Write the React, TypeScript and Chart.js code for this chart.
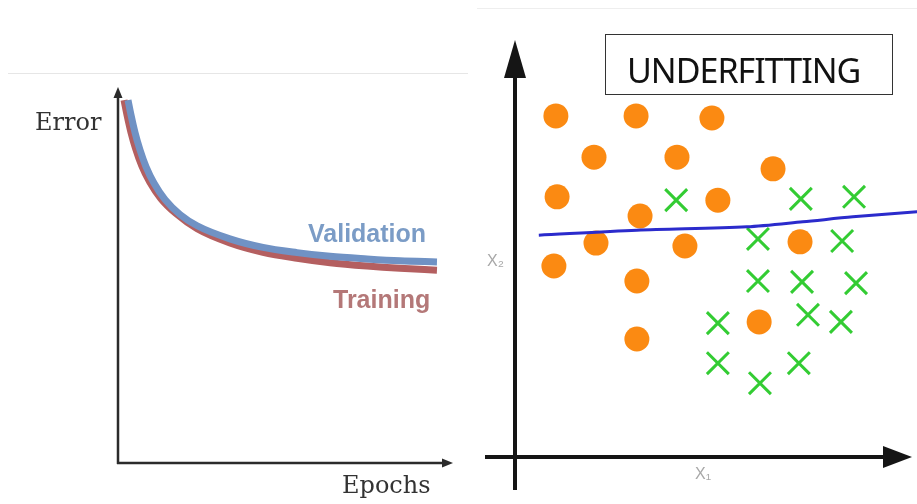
import React, { useEffect, useRef } from "react";
import { Chart, registerables } from "chart.js";

Chart.register(...registerables);

// ---- Left chart: error vs epochs ----
const validationEpochs = [3.0, 3.9, 5.1, 6.6, 8.4, 10.8, 14.1, 18.6, 23.7, 33.5, 43.4, 53.6, 63.5, 74.6, 84.4, 95.5];
const validationError = [97.3, 93.3, 88.6, 83.9, 79.4, 75.0, 70.6, 66.6, 63.6, 60.1, 57.8, 56.4, 55.4, 54.7, 54.2, 53.9];
const trainingEpochs = [1.8, 2.7, 3.9, 5.3, 7.1, 9.5, 12.8, 17.3, 23.7, 33.5, 43.4, 53.6, 63.5, 74.6, 84.4, 95.5];
const trainingError = [97.3, 93.3, 88.6, 84.2, 79.7, 75.3, 70.9, 66.9, 62.8, 59.0, 56.5, 54.9, 53.7, 52.8, 52.2, 51.7];

// ---- Right chart: underfitting scatter ----
const orangeX = [10.3, 30.5, 49.6, 19.9, 40.8, 65.0, 10.6, 51.1, 31.5, 20.4, 42.8, 71.8, 9.8, 30.7, 61.5, 30.7];
const orangeY = [81.8, 81.8, 81.3, 71.9, 71.9, 69.1, 62.4, 61.6, 57.8, 51.3, 50.6, 51.6, 45.8, 42.2, 32.4, 28.3];
const greenX = [40.6, 72.0, 85.4, 61.2, 82.4, 61.2, 72.3, 85.9, 51.1, 73.8, 82.1, 51.1, 61.7, 71.5];
const greenY = [61.6, 61.9, 62.4, 52.3, 51.8, 42.2, 42.0, 41.7, 32.1, 34.1, 32.4, 22.5, 17.7, 22.5];
const boundaryX = [6.0, 30.7, 58.4, 72.5, 85.1, 101.3];
const boundaryY = [53.2, 54.4, 55.2, 56.4, 57.6, 58.8];

const zip = (xs: number[], ys: number[]) => xs.map((x, i) => ({ x, y: ys[i] }));

const arrowAxes = {
  id: "arrowAxes",
  beforeDatasetsDraw(chart: any, _args: any, o: any) {
    const { ctx, chartArea: a } = chart;
    ctx.save();
    ctx.strokeStyle = o.color;
    ctx.fillStyle = o.color;
    ctx.lineWidth = o.width;
    // y axis
    const yTip = a.top + o.yTipOffset;
    ctx.beginPath();
    ctx.moveTo(a.left, a.bottom + o.yBelow);
    ctx.lineTo(a.left, yTip + o.head * 0.8);
    ctx.stroke();
    ctx.beginPath();
    ctx.moveTo(a.left, yTip);
    ctx.lineTo(a.left - o.half, yTip + o.head);
    ctx.lineTo(a.left + o.half, yTip + o.head);
    ctx.closePath();
    ctx.fill();
    // x axis
    const xTip = a.right + o.xTipOffset;
    ctx.beginPath();
    ctx.moveTo(a.left - o.xBefore, a.bottom);
    ctx.lineTo(xTip - o.xHead * 0.8, a.bottom);
    ctx.stroke();
    ctx.beginPath();
    ctx.moveTo(xTip, a.bottom);
    ctx.lineTo(xTip - o.xHead, a.bottom - o.half);
    ctx.lineTo(xTip - o.xHead, a.bottom + o.half);
    ctx.closePath();
    ctx.fill();
    ctx.restore();
  },
};

const hiddenScales = {
  x: { type: "linear" as const, min: 0, max: 100, display: false },
  y: { type: "linear" as const, min: 0, max: 100, display: false },
};

export default function App() {
  const leftRef = useRef<HTMLCanvasElement>(null);
  const rightRef = useRef<HTMLCanvasElement>(null);

  useEffect(() => {
    const left = new Chart(leftRef.current!, {
      type: "line",
      data: {
        datasets: [
          {
            label: "Validation",
            data: zip(validationEpochs, validationError),
            borderColor: "#7092c4",
            borderWidth: 7,
            pointRadius: 0,
            cubicInterpolationMode: "monotone",
            fill: false,
          },
          {
            label: "Training",
            data: zip(trainingEpochs, trainingError),
            borderColor: "#b45f60",
            borderWidth: 7,
            pointRadius: 0,
            cubicInterpolationMode: "monotone",
            fill: false,
          },
        ],
      },
      options: {
        responsive: false,
        animation: false,
        events: [],
        layout: { autoPadding: false, padding: { left: 118, right: 465, top: 90, bottom: 41 } },
        scales: hiddenScales,
        plugins: {
          legend: { display: false },
          tooltip: { enabled: false },
          arrowAxes: {
            color: "#2b2b2b",
            width: 2.5,
            yTipOffset: -3,
            yBelow: 1,
            head: 11,
            half: 4.5,
            xTipOffset: 1,
            xBefore: 1,
            xHead: 11,
          },
        } as any,
      } as any,
      plugins: [arrowAxes],
    });

    const right = new Chart(rightRef.current!, {
      type: "scatter",
      data: {
        datasets: [
          {
            type: "line",
            label: "Boundary",
            data: zip(boundaryX, boundaryY),
            borderColor: "#2b2bcc",
            borderWidth: 3,
            pointRadius: 0,
            tension: 0.3,
            clip: false,
          } as any,
          {
            label: "Class O",
            data: zip(orangeX, orangeY),
            pointStyle: "circle",
            pointRadius: 12.5,
            backgroundColor: "#fb8a12",
            borderWidth: 0,
          },
          {
            label: "Class X",
            data: zip(greenX, greenY),
            pointStyle: "crossRot",
            pointRadius: 15.5,
            borderColor: "#33cc33",
            borderWidth: 3,
          },
        ],
      },
      options: {
        responsive: false,
        animation: false,
        events: [],
        layout: { autoPadding: false, padding: { left: 515, right: 5, top: 40, bottom: 47 } },
        scales: hiddenScales,
        plugins: {
          legend: { display: false },
          tooltip: { enabled: false },
          arrowAxes: {
            color: "#151515",
            width: 4,
            yTipOffset: 0,
            yBelow: 33,
            head: 38,
            half: 11,
            xTipOffset: 0,
            xBefore: 30,
            xHead: 29,
          },
        } as any,
      } as any,
      plugins: [arrowAxes],
    });

    return () => {
      left.destroy();
      right.destroy();
    };
  }, []);

  const abs = (s: React.CSSProperties): React.CSSProperties => ({ position: "absolute", lineHeight: 1, whiteSpace: "nowrap", ...s });

  return (
    <div style={{ position: "fixed", left: 0, top: 0, width: 917, height: 504, background: "#fff", overflow: "hidden" }}>
      <div style={abs({ left: 8, top: 73, width: 460, height: 1, background: "#e6e6e6" })} />
      <div style={abs({ left: 477, top: 8, width: 440, height: 1, background: "#eeeeee" })} />
      <canvas ref={leftRef} width={917} height={504} style={{ position: "absolute", left: 0, top: 0 }} />
      <canvas ref={rightRef} width={917} height={504} style={{ position: "absolute", left: 0, top: 0 }} />
      <div style={abs({ left: 35, top: 110, fontFamily: "'DejaVu Serif', serif", fontSize: 24, color: "#333" })}>Error</div>
      <div style={abs({ left: 342, top: 473, fontFamily: "'DejaVu Serif', serif", fontSize: 24, color: "#333" })}>Epochs</div>
      <div style={abs({ left: 308, top: 221, fontFamily: "'Liberation Sans', Arial, sans-serif", fontWeight: 700, fontSize: 25, color: "#7b9cc6" })}>Validation</div>
      <div style={abs({ left: 333, top: 287, fontFamily: "'Liberation Sans', Arial, sans-serif", fontWeight: 700, fontSize: 25, color: "#b47878" })}>Training</div>
      <div style={abs({ left: 605, top: 34, width: 288, height: 61, border: "1.5px solid #333", boxSizing: "border-box" })} />
      <div style={abs({ left: 627, top: 53, fontFamily: "'Noto Sans', sans-serif", fontSize: 34, letterSpacing: -1, color: "#111" })}>UNDERFITTING</div>
      <div style={abs({ left: 487, top: 253, fontFamily: "'Liberation Sans', sans-serif", fontSize: 16, color: "#a8a8a8" })}>X₂</div>
      <div style={abs({ left: 695, top: 466, fontFamily: "'Liberation Sans', sans-serif", fontSize: 16, color: "#a8a8a8" })}>X₁</div>
    </div>
  );
}
